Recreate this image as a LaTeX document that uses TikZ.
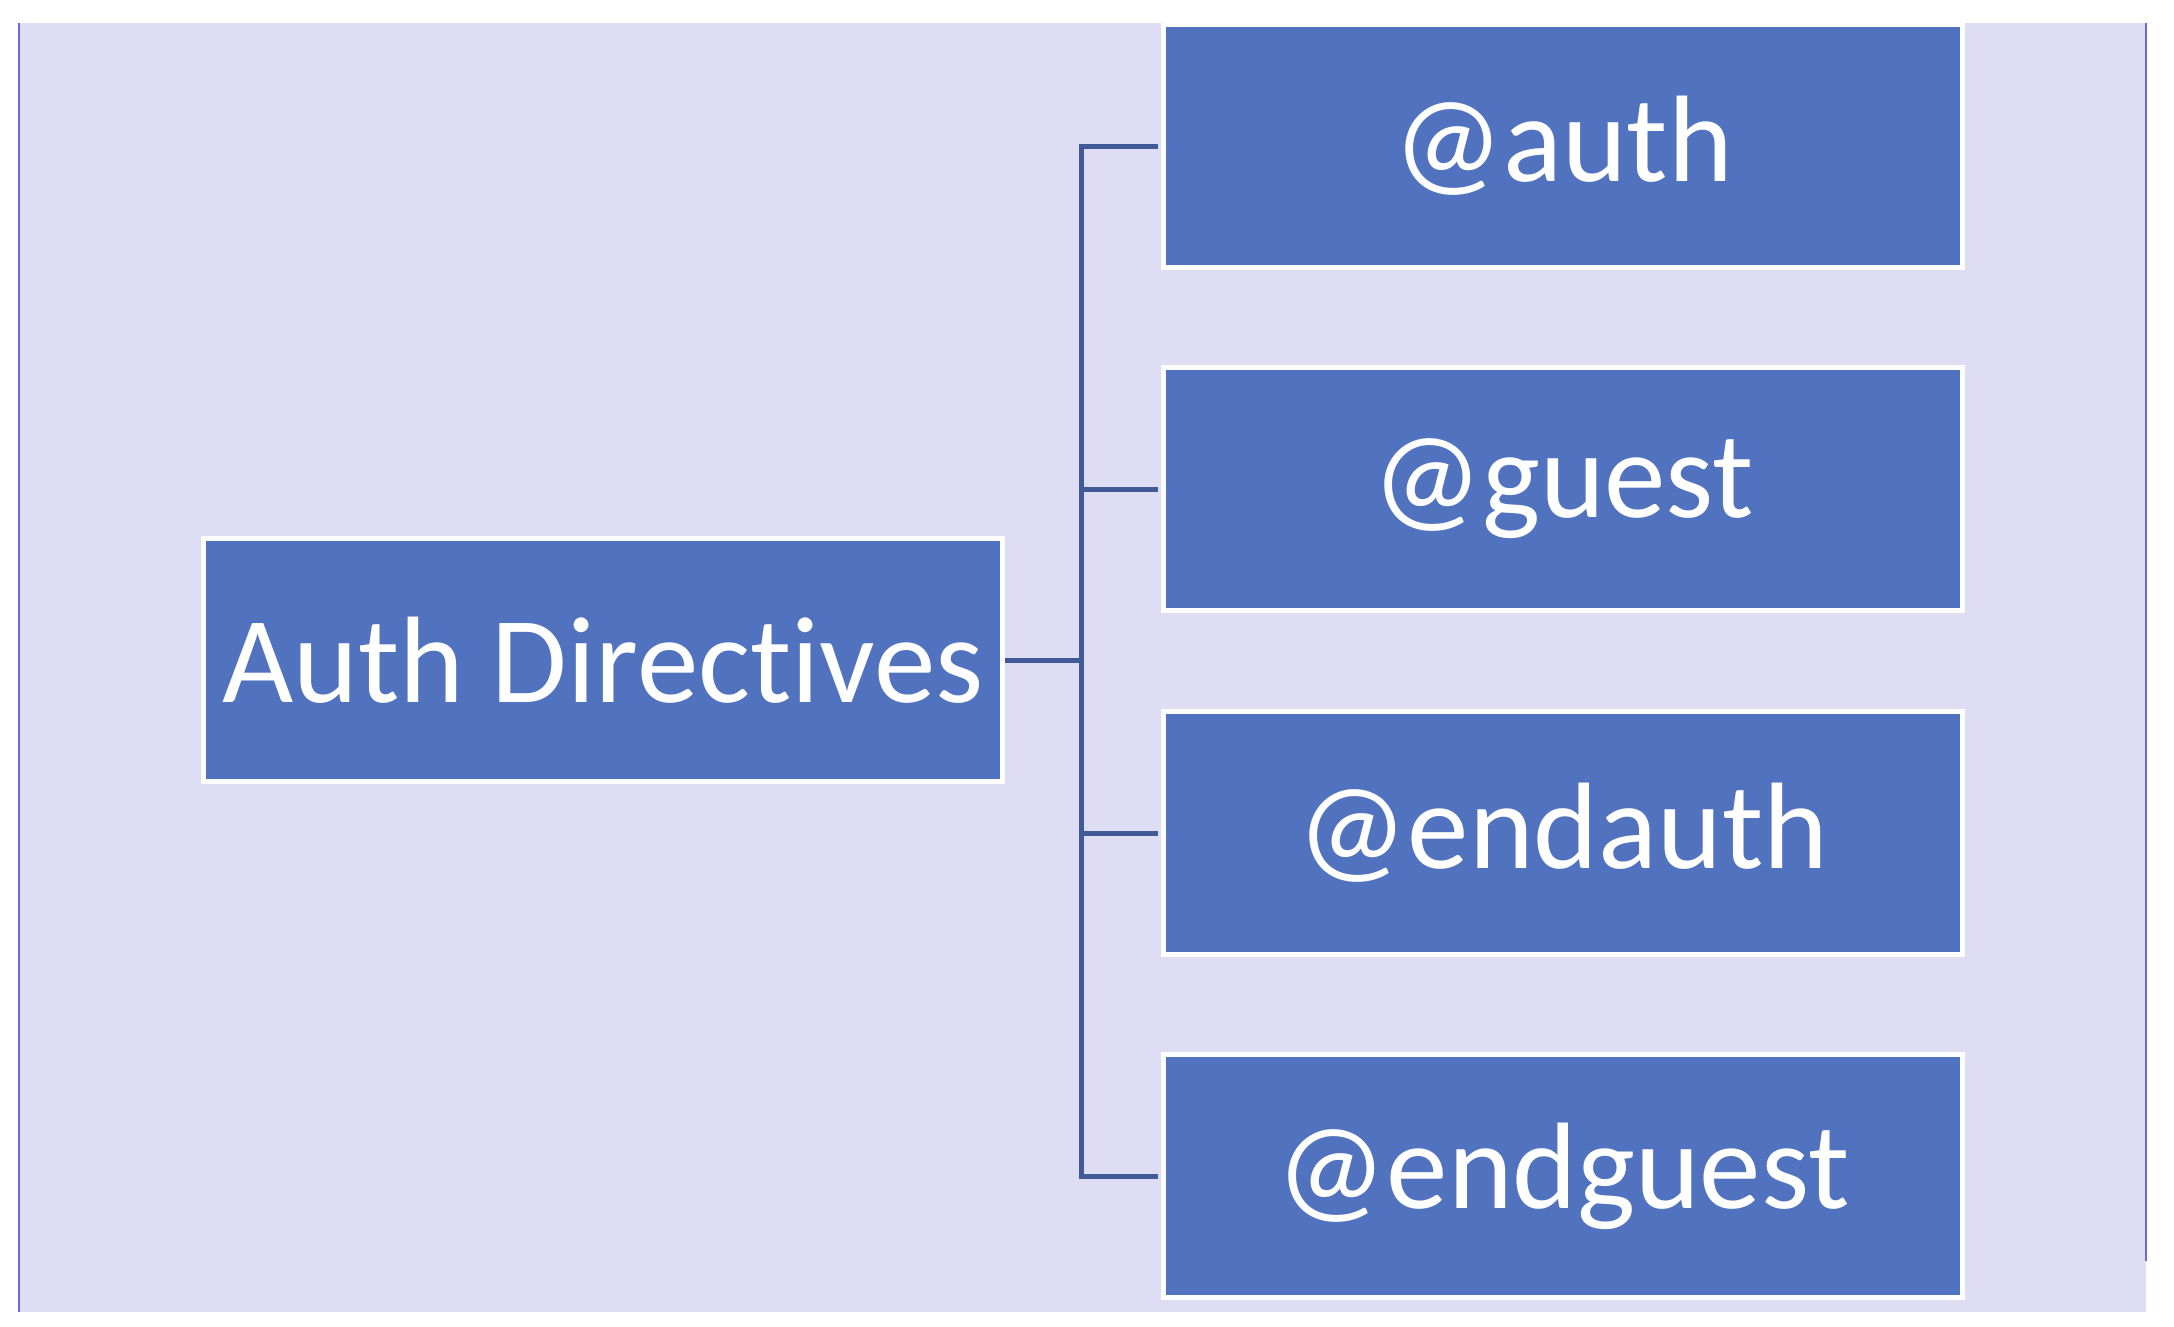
\documentclass[tikz,border=0pt]{standalone}
\usepackage{fontspec}
\setmainfont{Carlito}[Ligatures=NoCommon]
\usepackage{tikz}
\usetikzlibrary{calc}
\usetikzlibrary{positioning}
\definecolor{lavender}{RGB}{222, 221, 244}
\definecolor{edgeblue}{RGB}{104, 104, 214}
\definecolor{boxblue}{RGB}{81, 114, 190}
\definecolor{linkblue}{RGB}{63, 90, 150}

\tikzset{
  dirbox/.style={draw=white, line width=0.05cm, fill=boxblue, text=white,
    minimum width=7.99cm, minimum height=2.43cm, inner sep=0pt,
    font=\fontsize{35}{40}\selectfont},
  link/.style={draw=linkblue, line width=0.05cm}
}

\begin{document}
\begin{tikzpicture}[x=0.01cm, y=-0.01cm]
            \useasboundingbox (0, 0) rectangle (2174, 1326);
            \fill[lavender] (19, 23) rectangle (2146, 1312);
            \draw[edgeblue, line width=0.015cm] (19, 23) -- (19, 1312);
            \draw[edgeblue, line width=0.015cm] (2146, 23) -- (2146, 1261);
            % root and the four directives
            \node[dirbox] (directives) at ( 603,  660) {Auth Directives};
            \coordinate (fork) at (1081, 660);
            \node[dirbox] (auth)     at (1563,  146) {@auth};
            \node[dirbox] (guest)    at (1563,  489) {@guest};
            \node[dirbox] (endauth)  at (1563,  833) {@endauth};
            \node[dirbox] (endguest) at (1563, 1176) {@endguest};
            \draw[link] (directives.east) -- (fork);
            \foreach \d in {auth, guest, endauth, endguest}
                \draw[link, shorten >=0.025cm] (fork) |- (\d.west);
        \end{tikzpicture}
\end{document}
